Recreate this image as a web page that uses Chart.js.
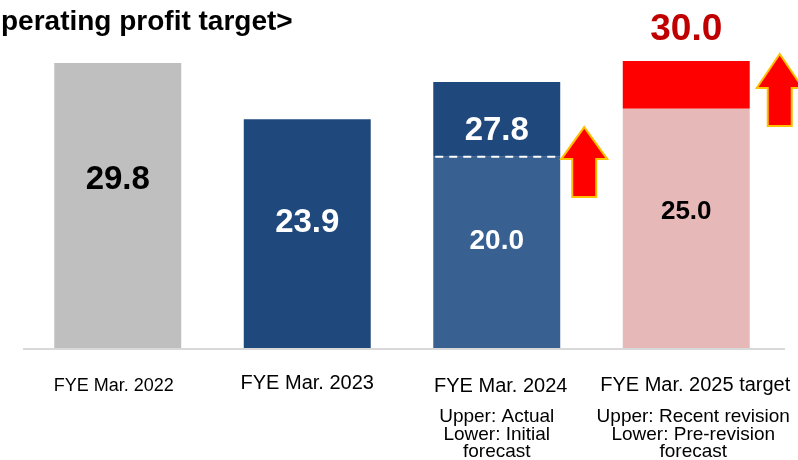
<!DOCTYPE html>
<html>
<head>
<meta charset="utf-8">
<script src="https://cdn.jsdelivr.net/npm/chart.js@4.4.1/dist/chart.umd.min.js"></script>
<style>
  html, body { margin: 0; padding: 0; background: #fff; }
  #wrap { position: relative; width: 798px; height: 460px; }
</style>
</head>
<body>
<div id="wrap"><canvas id="c"></canvas></div>
<script>
// data
const categories = ["FYE Mar. 2022", "FYE Mar. 2023", "FYE Mar. 2024", "FYE Mar. 2025 target"];
const subLabels = [[], [], ["Upper: Actual", "Lower: Initial", "forecast"], ["Upper: Recent revision", "Lower: Pre-revision", "forecast"]];
const baseValues = [29.8, 23.9, 20.0, 25.0];
const upliftValues = [0, 0, 7.8, 5.0];
const yTicks = [0, 30];

// styles
const FONT = "'Liberation Sans', Arial, sans-serif";
const baseColors = ["#bfbfbf", "#1f497d", "#386192", "#e6b9b8"];
const upliftColors = ["#bfbfbf", "#1f497d", "#1f497d", "#ff0000"];
const baseLabelStyle = [
  { color: "#000", size: 33, pos: 0.60 },
  { color: "#fff", size: 33, pos: 0.56 },
  { color: "#fff", size: 28, pos: 0.57 },
  { color: "#000", size: 26, pos: 0.58 }
];
const catFontSize = [18, 20, 20, 20];
const catShift = [-4, 0, 4, 9];
const catBaseline = [391, 389, 392, 391];

function totalOf(i) { return Math.round((baseValues[i] + upliftValues[i]) * 10) / 10; }

const overlay = {
  id: "overlay",
  afterDatasetsDraw(chart) {
    const ctx = chart.ctx;
    const y = chart.scales.y;
    const baseMeta = chart.getDatasetMeta(0);
    const upMeta = chart.getDatasetMeta(1);
    ctx.save();

    // baseline
    ctx.strokeStyle = "#d9d9d9";
    ctx.lineWidth = 2;
    ctx.beginPath();
    ctx.moveTo(23, y.getPixelForValue(0) + 1);
    ctx.lineTo(785, y.getPixelForValue(0) + 1);
    ctx.stroke();

    // dashed line where the initial forecast ends
    const b3 = baseMeta.data[2];
    ctx.strokeStyle = "#fff";
    ctx.lineWidth = 2;
    ctx.setLineDash([8, 6]);
    ctx.beginPath();
    ctx.moveTo(b3.x - b3.width / 2 + 2, y.getPixelForValue(baseValues[2]));
    ctx.lineTo(b3.x + b3.width / 2, y.getPixelForValue(baseValues[2]));
    ctx.stroke();
    ctx.setLineDash([]);

    // value labels
    ctx.textAlign = "center";
    ctx.textBaseline = "alphabetic";
    baseValues.forEach(function(v, i) {
      const bar = baseMeta.data[i];
      const st = baseLabelStyle[i];
      const cy = y.getPixelForValue(v * st.pos);
      ctx.fillStyle = st.color;
      ctx.font = "bold " + st.size + "px " + FONT;
      ctx.fillText(v.toFixed(1), bar.x, cy + st.size * 0.358);
    });
    // 27.8 inside upper segment
    const u3 = upMeta.data[2];
    ctx.fillStyle = "#fff";
    ctx.font = "bold 33px " + FONT;
    ctx.fillText(totalOf(2).toFixed(1), u3.x, y.getPixelForValue(baseValues[2] + upliftValues[2] * 0.38) + 33 * 0.358);
    // 30.0 above bar
    const u4 = upMeta.data[3];
    ctx.fillStyle = "#c00000";
    ctx.font = "bold 37px " + FONT;
    ctx.fillText(totalOf(3).toFixed(1), u4.x, y.getPixelForValue(totalOf(3)) - 21);

    // arrows
    function arrow(cx, tip, headBase, bottom) {
      ctx.beginPath();
      ctx.moveTo(cx, tip);
      ctx.lineTo(cx + 23, headBase);
      ctx.lineTo(cx + 12, headBase);
      ctx.lineTo(cx + 12, bottom);
      ctx.lineTo(cx - 12, bottom);
      ctx.lineTo(cx - 12, headBase);
      ctx.lineTo(cx - 23, headBase);
      ctx.closePath();
      ctx.fillStyle = "#ff0000";
      ctx.fill();
      ctx.strokeStyle = "#ffc000";
      ctx.lineWidth = 2;
      ctx.stroke();
    }
    const top3 = u3.y, top4 = u4.y;
    arrow(u3.x + u3.width / 2 + 24, top3 + 45, top3 + 77, top3 + 115);
    arrow(u4.x + u4.width / 2 + 30, top4 - 7, top4 + 27, top4 + 65);

    // category labels
    ctx.fillStyle = "#000";
    categories.forEach(function(c, i) {
      const cx = chart.scales.x.getPixelForValue(i) + catShift[i];
      ctx.font = catFontSize[i] + "px " + FONT;
      ctx.fillText(c, cx, catBaseline[i]);
      ctx.font = "19px " + FONT;
      subLabels[i].forEach(function(s, k) {
        ctx.fillText(s, chart.scales.x.getPixelForValue(i) + (i === 3 ? 7 : 0), 422 + k * 17.5);
      });
    });

    // title
    ctx.textAlign = "left";
    ctx.font = "bold 28px " + FONT;
    ctx.fillText("perating profit target>", 1, 30);
    ctx.restore();
  }
};

new Chart(document.getElementById("c"), {
  type: "bar",
  data: {
    labels: categories,
    datasets: [
      { data: baseValues, backgroundColor: baseColors, borderWidth: 0, barPercentage: 0.67, categoryPercentage: 1 },
      { data: upliftValues, backgroundColor: upliftColors, borderWidth: 0, barPercentage: 0.67, categoryPercentage: 1 }
    ]
  },
  options: {
    responsive: true,
    maintainAspectRatio: false,
    animation: false,
    layout: { padding: { left: 23, right: 17, top: 61, bottom: 112 } },
    scales: {
      x: { display: false, stacked: true },
      y: { display: false, stacked: true, min: yTicks[0], max: yTicks[1] }
    },
    plugins: { legend: { display: false }, tooltip: { enabled: false } }
  },
  plugins: [overlay]
});
</script>
</body>
</html>
